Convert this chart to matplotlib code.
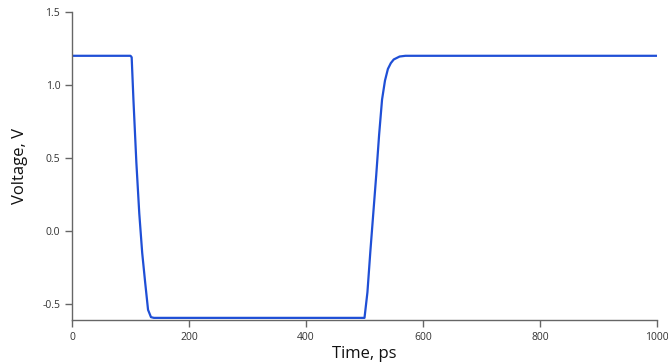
import matplotlib
matplotlib.use("Agg")
import matplotlib.pyplot as plt

# Transient voltage waveform
time_ps = [0, 100, 102, 105, 110, 115, 120, 125, 130, 135, 140,
           500, 505, 510, 515, 520, 525, 530, 535, 540, 545, 550, 560, 570, 580, 1000]
voltage_v = [1.2, 1.2, 1.19, 0.9, 0.47, 0.12, -0.15, -0.35, -0.54, -0.59, -0.595,
             -0.595, -0.42, -0.14, 0.12, 0.38, 0.66, 0.90, 1.03, 1.11, 1.15, 1.175, 1.195, 1.2, 1.2, 1.2]

x_ticks = [0, 200, 400, 600, 800, 1000]
y_ticks = [-0.5, 0.0, 0.5, 1.0, 1.5]

plt.rcParams['font.family'] = ['Open Sans', 'DejaVu Sans']

fig = plt.figure(figsize=(6.68, 3.64), dpi=100)
ax = fig.add_axes([72 / 668, 1 - 320 / 364, 585 / 668, 308 / 364])

ax.plot(time_ps, voltage_v, color='#1f4fd6', linewidth=1.6)

ax.set_xlim(0, 1000)
ax.set_ylim(-0.6096, 1.5)
ax.set_xticks(x_ticks)
ax.set_yticks(y_ticks)
ax.set_yticklabels([f'{v:.1f}' for v in y_ticks])

for side in ['top', 'right']:
    ax.spines[side].set_visible(False)
for side in ['left', 'bottom']:
    ax.spines[side].set_color('#666666')
    ax.spines[side].set_linewidth(1.0)

ax.tick_params(axis='both', colors='#666666', labelcolor='#333333', labelsize=7.5,
               length=5, width=1.0, direction='out')

ax.set_xlabel('Time, ps', fontsize=12, color='#111111', labelpad=2)
ax.set_ylabel('Voltage, V', fontsize=12, color='#111111', labelpad=10)

fig.savefig('out.png', dpi=100)
